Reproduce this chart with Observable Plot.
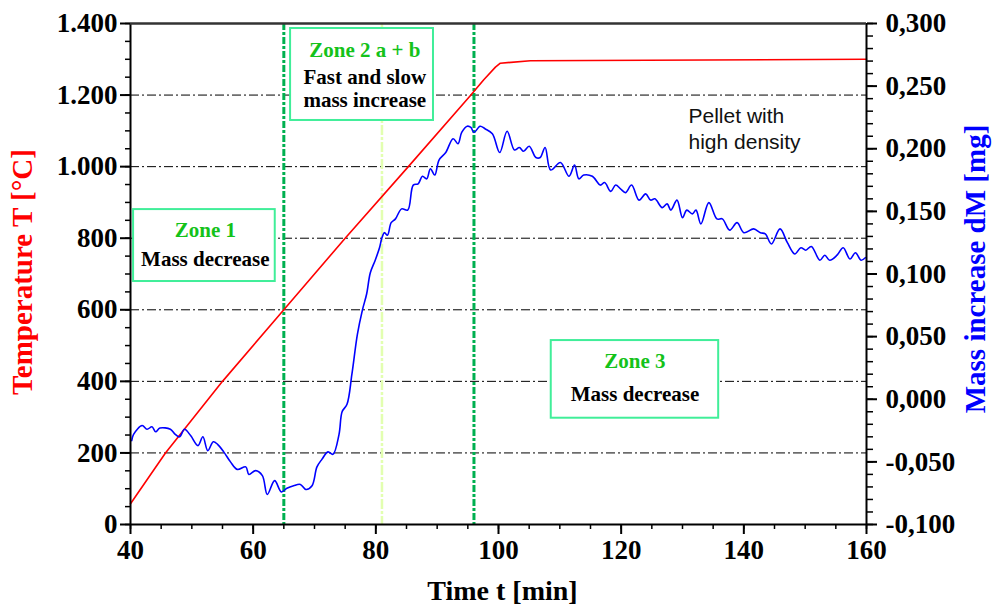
<!DOCTYPE html>
<html>
<head>
<meta charset="utf-8">
<script src="https://cdn.jsdelivr.net/npm/d3@7"></script>
<script src="https://cdn.jsdelivr.net/npm/@observablehq/plot@0.6"></script>
<style>
  html, body { margin: 0; padding: 0; background: #fff; }
  #chart svg { display: block; }
</style>
</head>
<body>
<div id="chart"></div>
<script>
// ---- Data ----
const timeTicks = [40, 60, 80, 100, 120, 140, 160];
const tempTicks = [0, 200, 400, 600, 800, 1000, 1200, 1400];
const massTicks = [-0.1, -0.05, 0, 0.05, 0.1, 0.15, 0.2, 0.25, 0.3];
const gridTemps = [200, 400, 600, 800, 1000, 1200];
const zoneLines = [65, 96];
const subZoneLines = [81];

// Temperature T [°C] vs time
const tempTime  = [40, 45.7, 55, 65, 75, 85.3, 95.5, 97.6, 99.5, 100.3, 105.2, 160];
const tempValue = [58, 200, 400, 600, 800, 1000, 1200, 1243, 1278, 1289, 1296, 1300];

// Mass increase dM [mg] vs time
const massTime = [40.2, 40.5, 41.9, 42.7, 43.5, 44.1, 44.8, 46.5, 47.3, 48.0, 48.8, 49.8, 51.0, 51.8, 52.6, 53.5, 54.2, 55.2, 56.3, 57.4, 58.8, 59.3, 60.4, 61.5, 62.3, 63.5, 64.6, 65.5, 66.6, 67.7, 68.6, 69.6, 70.4, 71.2, 72.2, 73.0, 74.0, 74.5, 75.3, 76.1, 77.0, 77.8, 78.5, 79.1, 79.9, 80.6, 81.0, 81.4, 81.9, 82.5, 83.2, 84.2, 85.2, 86.1, 86.9, 87.6, 88.3, 88.9, 89.6, 90.3, 91.4, 92.6, 93.4, 94.0, 94.9, 95.5, 96.0, 97.0, 97.8, 99.0, 100.2, 101.4, 102.6, 103.4, 104.1, 105.0, 106.1, 106.8, 107.6, 108.5, 110.1, 111.5, 112.4, 113.1, 113.9, 115.3, 116.6, 117.3, 118.3, 119.1, 119.9, 120.7, 121.7, 122.9, 124.0, 124.8, 125.5, 126.7, 127.5, 128.1, 129.1, 130.0, 130.7, 131.6, 132.2, 133.0, 134.3, 135.6, 136.5, 137.7, 138.9, 140.0, 141.6, 142.7, 143.5, 144.5, 145.9, 147.1, 148.3, 149.3, 150.1, 151.0, 152.4, 153.2, 154.0, 155.2, 156.2, 157.3, 158.2, 159.1, 159.8];
const massValue = [-0.033, -0.028, -0.021, -0.024, -0.022, -0.026, -0.023, -0.024, -0.028, -0.030, -0.024, -0.029, -0.037, -0.030, -0.041, -0.034, -0.036, -0.042, -0.050, -0.056, -0.054, -0.060, -0.057, -0.061, -0.076, -0.065, -0.074, -0.071, -0.069, -0.068, -0.072, -0.069, -0.054, -0.048, -0.042, -0.044, -0.028, -0.010, -0.004, 0.020, 0.052, 0.071, 0.084, 0.101, 0.111, 0.121, 0.129, 0.133, 0.131, 0.141, 0.144, 0.152, 0.151, 0.171, 0.172, 0.178, 0.176, 0.184, 0.179, 0.191, 0.197, 0.208, 0.204, 0.213, 0.218, 0.217, 0.213, 0.218, 0.216, 0.212, 0.197, 0.214, 0.199, 0.201, 0.198, 0.202, 0.193, 0.193, 0.201, 0.183, 0.189, 0.178, 0.187, 0.176, 0.179, 0.178, 0.171, 0.173, 0.166, 0.171, 0.168, 0.165, 0.171, 0.159, 0.164, 0.159, 0.160, 0.153, 0.156, 0.151, 0.159, 0.145, 0.151, 0.148, 0.151, 0.140, 0.157, 0.144, 0.144, 0.135, 0.141, 0.133, 0.136, 0.133, 0.132, 0.124, 0.136, 0.125, 0.116, 0.121, 0.119, 0.122, 0.111, 0.115, 0.111, 0.115, 0.121, 0.112, 0.117, 0.111, 0.113];

// Zone annotations (time / temperature units)
const zoneBoxes = [
  {x1: 40.5, x2: 63.6, y1: 679, y2: 880},
  {x1: 66.1, x2: 89.4, y1: 1129, y2: 1386},
  {x1: 108.6, x2: 135.9, y1: 297, y2: 514}
];
const zoneTitles = [
  {x: 52.2, y: 821, text: "Zone 1"},
  {x: 78.2, y: 1326, text: "Zone 2 a + b"},
  {x: 122.25, y: 457, text: "Zone 3"}
];
const zoneNotes = [
  {x: 52.2, y: 740, text: "Mass decrease"},
  {x: 78.2, y: 1250, text: "Fast and slow"},
  {x: 78.2, y: 1185, text: "mass increase"},
  {x: 122.25, y: 365, text: "Mass decrease"}
];
const pelletNote = [{x: 130.98, y: 1176, text: "Pellet with\nhigh density"}];

// ---- Helpers ----
const massMin = -0.1, massMax = 0.3, tempMax = 1400;
const toT = m => (m - massMin) / (massMax - massMin) * tempMax;
const fromT = t => t / tempMax * (massMax - massMin) + massMin;
const loc = d3.formatLocale({decimal: ",", thousands: ".", grouping: [3], currency: ["", ""], minus: "-"});
const fmtTemp = loc.format(",");
const fmtMass = loc.format(".3f");

const temps = tempTime.map((t, i) => ({time: t, value: tempValue[i]}));
const mass = massTime.map((t, i) => ({time: t, value: massValue[i]}));

const serif = "'Liberation Serif', 'Times New Roman', serif";

const chart = Plot.plot({
  width: 993,
  height: 613,
  marginLeft: 130,
  marginRight: 127,
  marginTop: 23,
  marginBottom: 89,
  style: {fontFamily: serif, fontSize: "27px", fontWeight: "bold", color: "#000", background: "#fff"},
  x: {domain: [40, 160]},
  y: {domain: [0, 1400]},
  marks: [
    // grid
    Plot.ruleY(gridTemps, {stroke: "#000", strokeWidth: 1, strokeDasharray: "9,3,2,3"}),
    // zone lines
    Plot.ruleX(subZoneLines, {stroke: "#e2ffb0", strokeWidth: 2.5, strokeDasharray: "10,2,3,2"}),
    Plot.ruleX(zoneLines, {stroke: "#00b050", strokeWidth: 3, strokeDasharray: "7,2,3,2"}),
    // series
    Plot.line(temps, {x: "time", y: "value", stroke: "#ff0000", strokeWidth: 1.6}),
    Plot.line(mass, {x: "time", y: d => toT(d.value), stroke: "#0000ff", strokeWidth: 1.6, curve: "catmull-rom"}),
    // zone boxes
    Plot.rect(zoneBoxes, {x1: "x1", x2: "x2", y1: "y1", y2: "y2", fill: "#fff", stroke: "#40ee99", strokeWidth: 2}),
    Plot.text(zoneTitles, {x: "x", y: "y", text: "text", fill: "#14c21a", fontSize: 21, fontWeight: "bold", fontFamily: serif, lineAnchor: "middle"}),
    Plot.text(zoneNotes, {x: "x", y: "y", text: "text", fill: "#000", fontSize: 21, fontWeight: "bold", fontFamily: serif, lineAnchor: "middle"}),
    Plot.text(pelletNote, {x: "x", y: "y", text: "text", fill: "#111", fontSize: 21, fontWeight: "normal", fontFamily: "'Liberation Sans', Arial, sans-serif", textAnchor: "start", lineAnchor: "top", lineHeight: 1.27}),
    // minor ticks
    Plot.axisY({anchor: "left", ticks: d3.range(0, 1401, 50), tickSize: 5, tickFormat: () => "", label: null, strokeWidth: 1.5}),
    Plot.axisY({anchor: "right", ticks: d3.range(0, 41).map(i => toT(massMin + i * 0.01)), tickSize: 6, tickFormat: () => "", label: null, strokeWidth: 1.5}),
    Plot.axisX({anchor: "bottom", ticks: d3.range(40, 161, 5), tickSize: 5, tickFormat: () => "", label: null, strokeWidth: 1.5}),
    // major ticks + labels
    Plot.axisY({anchor: "left", ticks: tempTicks, tickSize: 10, tickPadding: 3, tickFormat: fmtTemp, label: null, strokeWidth: 2, fontSize: 27}),
    Plot.axisY({anchor: "right", ticks: massTicks.map(toT), tickSize: 10, tickPadding: 9, tickFormat: d => fmtMass(fromT(d)), label: null, strokeWidth: 2, fontSize: 27}),
    Plot.axisX({anchor: "bottom", ticks: timeTicks, tickSize: 10, tickPadding: 5, tickFormat: d => String(d), label: null, strokeWidth: 2, fontSize: 27}),
    // frame
    Plot.ruleX([40, 160], {stroke: "#000", strokeWidth: 2}),
    Plot.ruleY([0], {stroke: "#000", strokeWidth: 2}),
    Plot.ruleY([1400], {stroke: "#333", strokeWidth: 2.5}),
    // axis titles
    Plot.text(["Temperature T [°C]"], {frameAnchor: "left", dx: -108, dy: -2, rotate: -90, textAnchor: "middle", fill: "#ff0000", fontSize: 29, fontWeight: "bold", fontFamily: serif}),
    Plot.text(["Mass increase dM [mg]"], {frameAnchor: "right", dx: 109, dy: -5, rotate: -90, textAnchor: "middle", fill: "#0000ff", fontSize: 29, fontWeight: "bold", fontFamily: serif}),
    Plot.text(["Time t [min]"], {frameAnchor: "bottom", dx: 4, dy: 75, textAnchor: "middle", fill: "#000", fontSize: 28, fontWeight: "bold", fontFamily: serif})
  ]
});

document.getElementById("chart").appendChild(chart);
</script>
</body>
</html>
